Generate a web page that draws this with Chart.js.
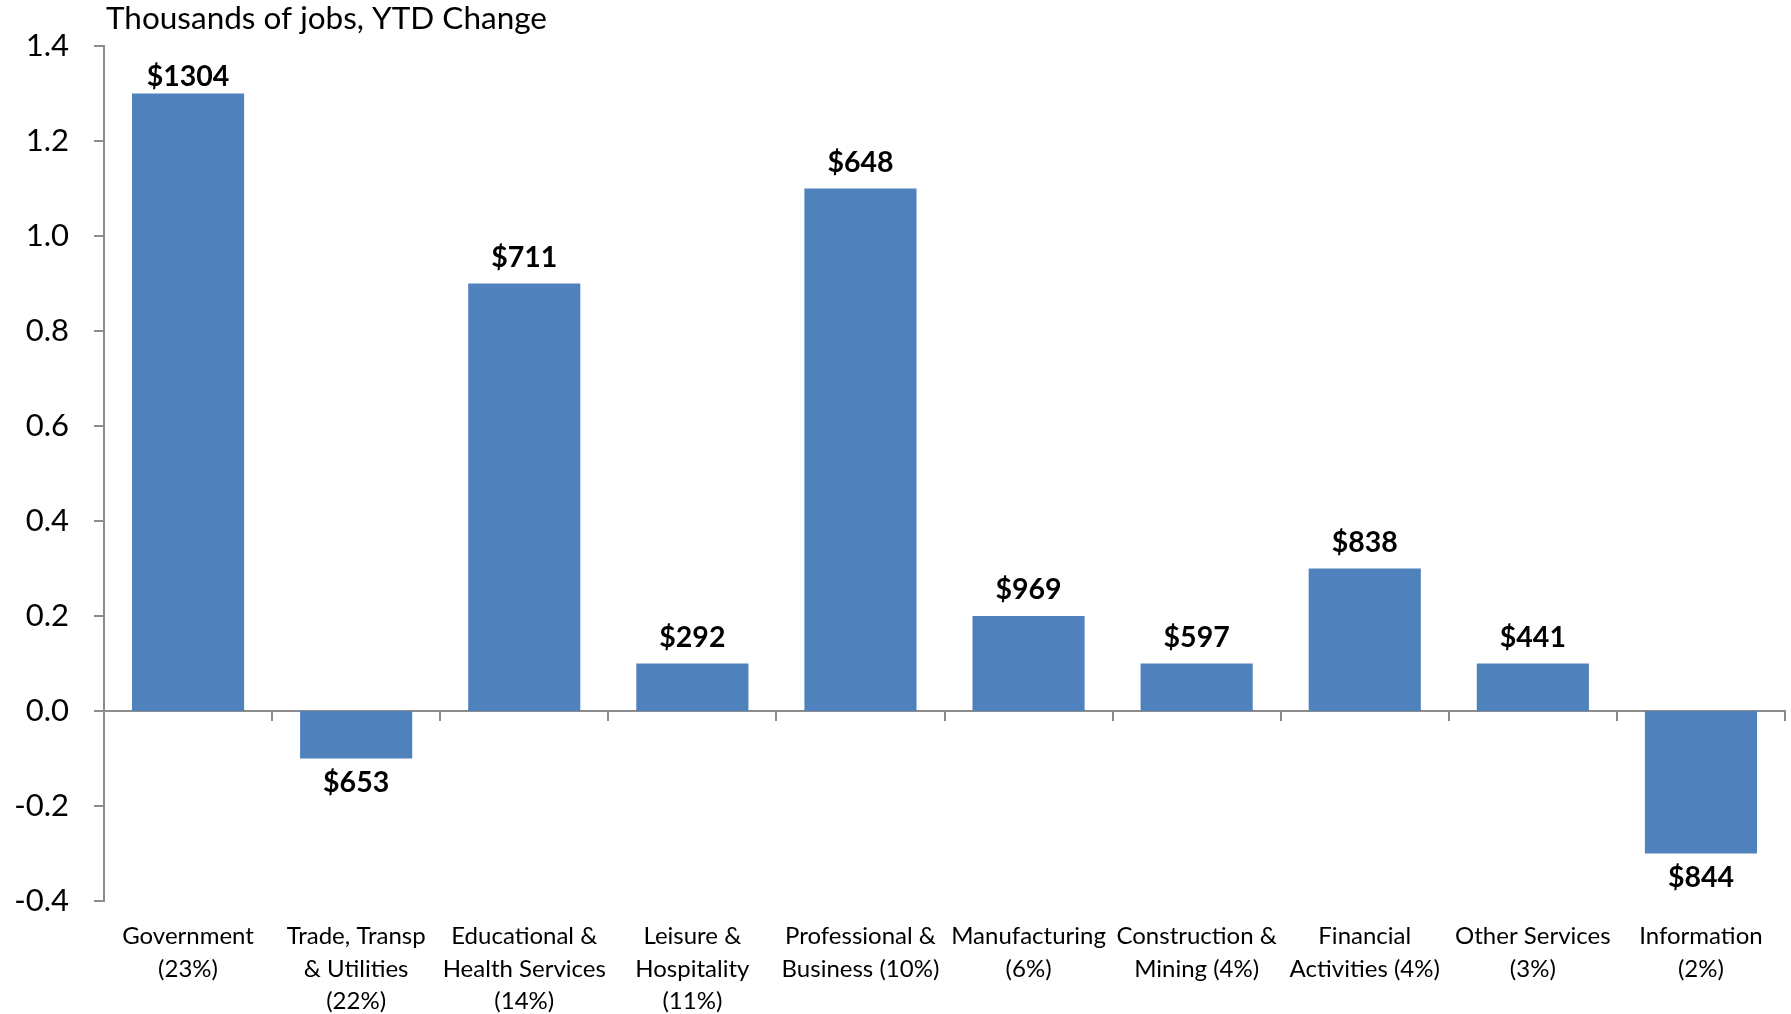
<!DOCTYPE html>
<html>
<head>
<meta charset="utf-8">
<script src="https://cdn.jsdelivr.net/npm/chart.js@4/dist/chart.umd.min.js"></script>
<style>
  html, body { margin: 0; padding: 0; background: #fff; }
  #wrap { width: 1791px; height: 1014px; }
</style>
</head>
<body>
<div id="wrap"><canvas id="jobsChart"></canvas></div>
<script>
// --- DATA ---
const categories = [
    ['Government', '(23%)'],
    ['Trade, Transp', '& Utilities', '(22%)'],
    ['Educational &', 'Health Services', '(14%)'],
    ['Leisure &', 'Hospitality', '(11%)'],
    ['Professional &', 'Business (10%)'],
    ['Manufacturing', '(6%)'],
    ['Construction &', 'Mining (4%)'],
    ['Financial', 'Activities (4%)'],
    ['Other Services', '(3%)'],
    ['Information', '(2%)']
];
const jobChange = [1.3, -0.1, 0.9, 0.1, 1.1, 0.2, 0.1, 0.3, 0.1, -0.3];
const wageLabels = ['$1304', '$653', '$711', '$292', '$648', '$969', '$597', '$838', '$441', '$844'];
const yTicks = { min: -0.4, max: 1.4, step: 0.2 };
const axisTitle = 'Thousands of jobs, YTD Change';

const FONT = 'Lato, "Open Sans", sans-serif';
const AXIS_GREY = '#8c8c8c';

// Labels above positive bars, below negative ones + the axis title
const barLabelsPlugin = {
    id: 'barLabels',
    afterDatasetsDraw(chart) {
        const ctx = chart.ctx;
        const meta = chart.getDatasetMeta(0);
        const top = chart.chartArea.top;
        ctx.save();
        ctx.font = 'bold 28.5px ' + FONT;
        ctx.fillStyle = '#000';
        ctx.textAlign = 'center';
        ctx.textBaseline = 'middle';
        meta.data.forEach((bar, i) => {
            const v = jobChange[i];
            // keep labels inside the plot when the bar is close to the top
            const y = v >= 0 ? Math.max(bar.y - 26, top + 31) : bar.y + 24;
            ctx.fillText(wageLabels[i], bar.x, y);
        });
        ctx.font = '31.5px ' + FONT;
        ctx.textAlign = 'left';
        ctx.fillText(axisTitle, chart.chartArea.left + 2, 19);
        ctx.restore();
    }
};

const ctx = document.getElementById('jobsChart').getContext('2d');
new Chart(ctx, {
    type: 'bar',
    data: {
        labels: categories,
        datasets: [{
            data: jobChange,
            xAxisID: 'x',
            yAxisID: 'y',
            backgroundColor: '#4F81BD',
            borderWidth: 0,
            barPercentage: 0.667,
            categoryPercentage: 1.0
        }]
    },
    options: {
        responsive: true,
        maintainAspectRatio: false,
        animation: false,
        layout: { padding: { top: 46, right: 6, bottom: 0, left: 0 } },
        plugins: {
            legend: { display: false },
            tooltip: { enabled: false }
        },
        scales: {
            x: {
                type: 'category',
                position: 'bottom',
                offset: true,
                afterFit: (scale) => { scale.height = 113; },
                grid: { display: false },
                border: { display: false },
                ticks: {
                    color: '#000',
                    font: { family: FONT, size: 24, lineHeight: 1.36 },
                    padding: 11,
                    maxRotation: 0,
                    autoSkip: false
                }
            },
            x0: {
                type: 'category',
                position: { y: 0 },
                offset: true,
                grid: { offset: true, drawOnChartArea: false, drawTicks: true, tickLength: 9, color: AXIS_GREY, lineWidth: 2 },
                border: { display: true, color: AXIS_GREY, width: 2 },
                ticks: { display: false }
            },
            y: {
                min: yTicks.min,
                max: yTicks.max,
                afterFit: (scale) => { scale.width = 104; },
                grid: { drawOnChartArea: false, tickLength: 10, color: AXIS_GREY, lineWidth: 2 },
                border: { display: true, color: AXIS_GREY, width: 2 },
                ticks: {
                    stepSize: yTicks.step,
                    color: '#000',
                    padding: 25,
                    font: { family: FONT, size: 31 },
                    callback: (v) => (Math.abs(v) < 1e-9 ? 0 : v).toFixed(1)
                }
            }
        }
    },
    plugins: [barLabelsPlugin]
});
</script>
</body>
</html>
